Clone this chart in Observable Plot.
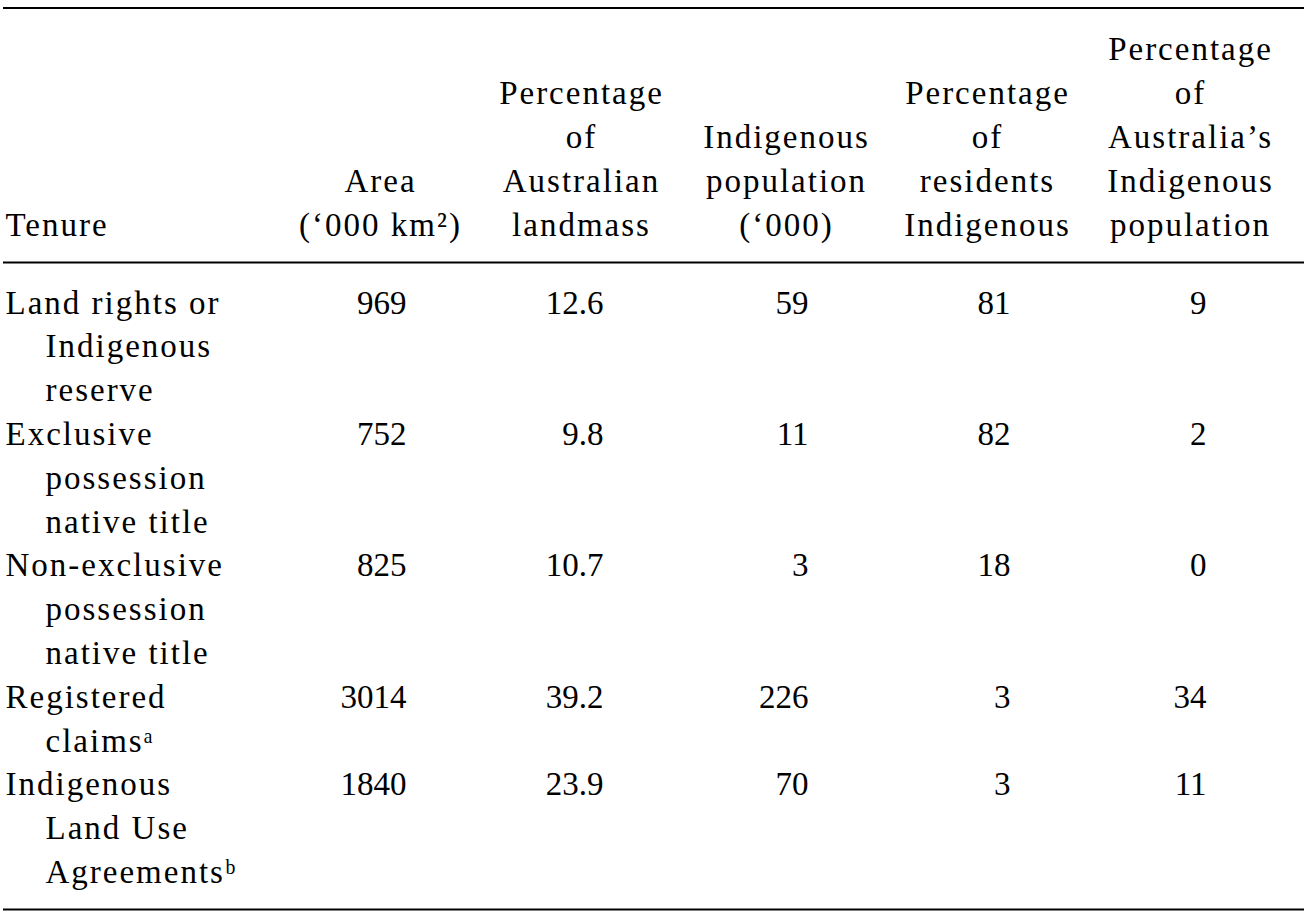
<!DOCTYPE html>
<html>
<head>
<meta charset="utf-8">
<script src="https://cdn.jsdelivr.net/npm/d3@7"></script>
<script src="https://cdn.jsdelivr.net/npm/@observablehq/plot@0.6"></script>
<style>
  html, body { margin: 0; padding: 0; background: #fff; }
  #chart svg { display: block; }
  #chart svg text { font-family: "Liberation Serif", "Times New Roman", serif; }
</style>
</head>
<body>
<div id="chart"></div>
<script>
// ---- data ----
const headers = [
  "Tenure",
  "Area\n(‘000 km²)",
  "Percentage\nof\nAustralian\nlandmass",
  "Indigenous\npopulation\n(‘000)",
  "Percentage\nof\nresidents\nIndigenous",
  "Percentage\nof\nAustralia’s\nIndigenous\npopulation"
];
const tenure = [
  "Land rights or\nIndigenous\nreserve",
  "Exclusive\npossession\nnative title",
  "Non-exclusive\npossession\nnative title",
  "Registered\nclaimsᵃ",
  "Indigenous\nLand Use\nAgreementsᵇ"
];
const area = [969, 752, 825, 3014, 1840];
const pctLandmass = [12.6, 9.8, 10.7, 39.2, 23.9];
const indigenousPop = [59, 11, 3, 226, 70];
const pctResidentsIndigenous = [81, 82, 18, 3, 3];
const pctAustraliaIndigenous = [9, 2, 0, 34, 11];

// ---- layout (table geometry) ----
const W = 1308, H = 912;
const FONT = "'Liberation Serif', 'Times New Roman', serif";
const FS = 33;
const LH = 43.8;                 // line height
const headerBaseline = 235;      // baseline of the last header line
const bodyBaseline = 313;        // baseline of first body line
const base = FS * 0.32;          // Plot's middle-anchor offset to baseline
const tenureLeft = 5, tenureIndent = 45;
const colCenter = [null, 380, 581, 786, 987, 1190];
const colRight = [null, 406, 603, 808, 1010, 1206];
const rules = [{y: 7.5}, {y: 262}, {y: 909}];

const numericCols = [
  {values: area, fmt: d3.format("d")},
  {values: pctLandmass, fmt: d3.format(".1f")},
  {values: indigenousPop, fmt: d3.format("d")},
  {values: pctResidentsIndigenous, fmt: d3.format("d")},
  {values: pctAustraliaIndigenous, fmt: d3.format("d")}
];

// header lines
const labelCells = [];
headers.forEach((h, c) => {
  const lines = h.split("\n");
  lines.forEach((t, k) => {
    const fromBottom = lines.length - 1 - k;
    labelCells.push({
      text: t,
      x: c === 0 ? tenureLeft : colCenter[c],
      y: headerBaseline - fromBottom * LH - base,
      anchor: c === 0 ? "start" : "middle"
    });
  });
});

// body rows
const rowStart = [];
let lineNo = 0;
tenure.forEach((t, r) => {
  rowStart.push(lineNo);
  t.split("\n").forEach((s, k) => {
    labelCells.push({
      text: s,
      x: k === 0 ? tenureLeft : tenureIndent,
      y: bodyBaseline + (lineNo + k) * LH - base,
      anchor: "start"
    });
  });
  lineNo += t.split("\n").length;
});

const numberCells = [];
numericCols.forEach((col, i) => {
  col.values.forEach((v, r) => {
    numberCells.push({
      text: col.fmt(v),
      x: colRight[i + 1],
      y: bodyBaseline + rowStart[r] * LH - base
    });
  });
});

const chart = Plot.plot({
  width: W,
  height: H,
  margin: 0,
  x: {domain: [0, W], range: [0, W], axis: null},
  y: {domain: [0, H], range: [0, H], axis: null},
  style: {fontFamily: FONT, fontSize: FS + "px", color: "#000", background: "#fff"},
  marks: [
    Plot.ruleY(rules, {y: "y", x1: 3, x2: 1304, stroke: "#000", strokeWidth: 2.2}),
    Plot.text(labelCells.filter(d => d.anchor === "start"), {
      x: "x", y: "y", text: "text", textAnchor: "start",
      fontSize: FS, fontFamily: FONT, fill: "#000"
    }),
    Plot.text(labelCells.filter(d => d.anchor === "middle"), {
      x: "x", y: "y", text: "text", textAnchor: "middle",
      fontSize: FS, fontFamily: FONT, fill: "#000"
    }),
    Plot.text(numberCells, {
      x: "x", y: "y", text: "text", textAnchor: "end",
      fontSize: FS, fontFamily: FONT, fill: "#000"
    })
  ]
});
document.getElementById("chart").appendChild(chart);

// letter-spacing for word labels (the reference typeface is wider than Liberation Serif)
const textGroups = chart.querySelectorAll('g[aria-label="text"]');
textGroups.forEach((g, i) => {
  if (i < 2) g.querySelectorAll("text").forEach(t => t.style.letterSpacing = "2px");
});
</script>
</body>
</html>
